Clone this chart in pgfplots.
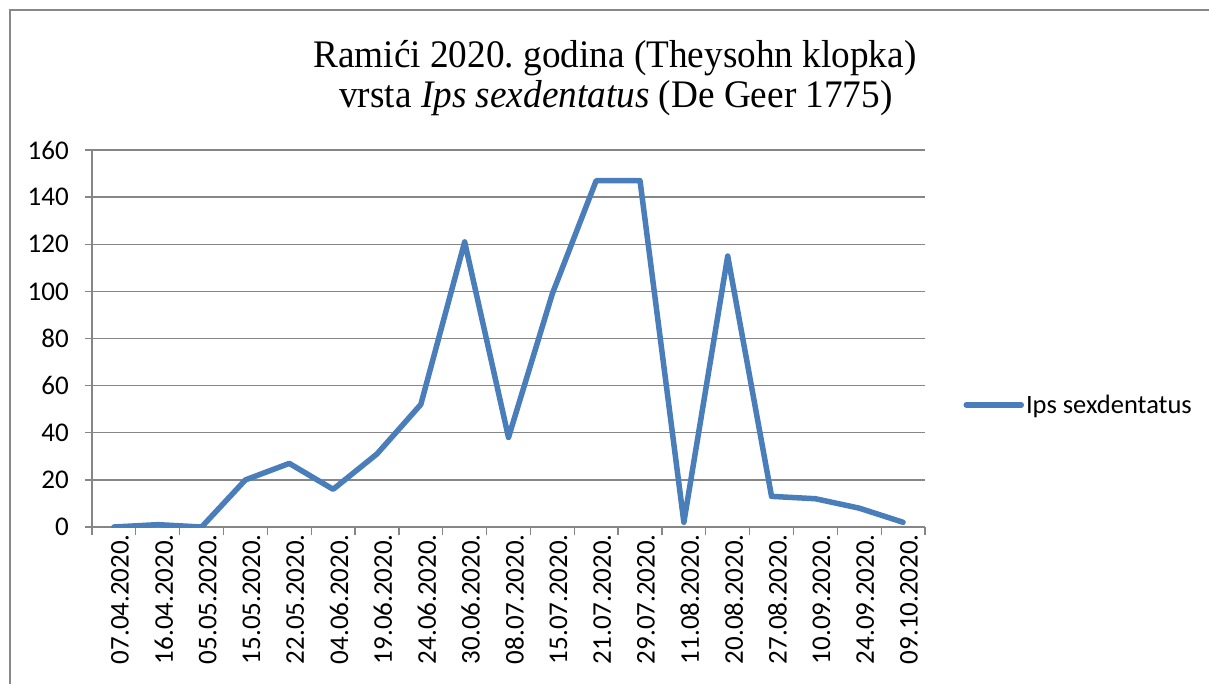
\documentclass[border=0pt]{standalone}
\usepackage{fontspec}
\setmainfont{Liberation Serif}
\newfontfamily\carlito{Carlito}
\newfontfamily\titlefont[FakeStretch=0.955]{Liberation Serif}
\usepackage{pgfplots}
\pgfplotsset{compat=1.18}
\definecolor{axgray}{HTML}{868686}
\definecolor{framegray}{HTML}{888888}
\definecolor{serblue}{HTML}{4A7EBB}
\frenchspacing
\begin{document}
\begin{tikzpicture}
\path[use as bounding box] (0pt,0pt) rectangle (1209pt,-684pt);
\draw[framegray, line width=2pt] (10pt,-684pt) -- (10pt,-10pt) -- (1209pt,-10pt);
\node[anchor=base, inner sep=0pt, font=\titlefont\fontsize{39}{42}\selectfont] at (615pt,-68pt) {Ramići 2020. godina (Theysohn klopka)};
\node[anchor=base, inner sep=0pt, font=\titlefont\fontsize{39}{42}\selectfont] at (616pt,-108pt) {vrsta \textit{Ips sexdentatus} (De Geer 1775)};
\begin{axis}[
  at={(92pt,-527pt)}, anchor=south west,
  scale only axis, width=833pt, height=377pt,
  xmin=-0.5, xmax=18.5, ymin=0, ymax=160,
  axis x line=bottom, axis y line=left,
  axis line style={draw=axgray, line width=1.3pt, -},
  ytick={0,20,...,160},
  xtick={0,...,18},
  xticklabels={07.04.2020.,16.04.2020.,05.05.2020.,15.05.2020.,22.05.2020.,04.06.2020.,19.06.2020.,24.06.2020.,30.06.2020.,08.07.2020.,15.07.2020.,21.07.2020.,29.07.2020.,11.08.2020.,20.08.2020.,27.08.2020.,10.09.2020.,24.09.2020.,09.10.2020.},
  minor xtick={-0.5,0.5,...,18.5},
  major x tick style={draw=none},
  minor x tick style={draw=axgray, line width=1.3pt},
  y tick style={draw=axgray, line width=1.3pt},
  tick align=outside,
  major tick length=7pt, minor tick length=8pt,
  ymajorgrids, grid style={draw=axgray, line width=1.3pt},
  /pgf/number format/assume math mode=true,
  ticklabel style={font=\carlito\fontsize{27}{30}\selectfont},
  yticklabel style={anchor=east, inner sep=0pt, xshift=-16pt},
  xticklabel style={rotate=90, anchor=east, inner sep=0pt, yshift=-6pt},
  legend style={at={(1.046,0.3236)}, anchor=west, draw=none, fill=none,
    font=\carlito\fontsize{26.5}{30}\selectfont, inner sep=0pt,
    /tikz/every even column/.style={column sep=0pt}},
  legend image code/.code={\draw[#1] (0pt,0pt) -- (55pt,0pt);},
]
\addplot[serblue, line width=5.5pt, line join=round, line cap=round] coordinates {
(0,0) (1,1) (2,0) (3,20) (4,27) (5,16) (6,31) (7,52) (8,121) (9,38)
(10,99) (11,147) (12,147) (13,2) (14,115) (15,13) (16,12) (17,8) (18,2)
};
\addlegendentry{Ips sexdentatus}
\end{axis}
\end{tikzpicture}
\end{document}
